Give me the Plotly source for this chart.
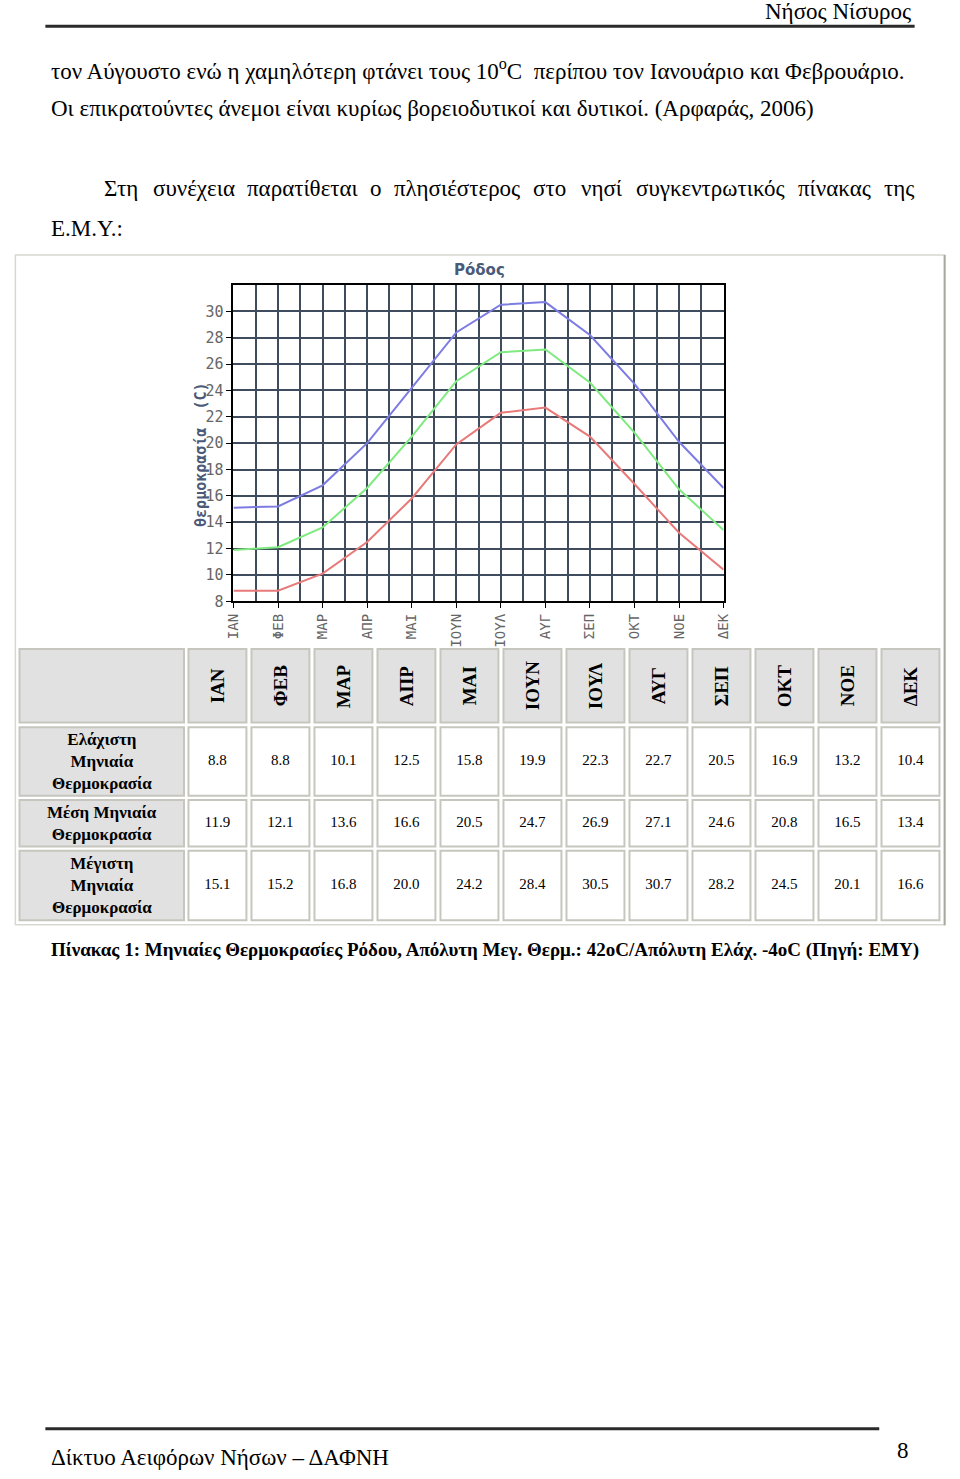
import plotly.graph_objects as go

W, H = 960, 1479

# ---------------- data ----------------
months = ["ΙΑΝ", "ΦΕΒ", "ΜΑΡ", "ΑΠΡ", "ΜΑΙ", "ΙΟΥΝ", "ΙΟΥΛ", "ΑΥΓ", "ΣΕΠ", "ΟΚΤ", "ΝΟΕ", "ΔΕΚ"]
t_min = [8.8, 8.8, 10.1, 12.5, 15.8, 19.9, 22.3, 22.7, 20.5, 16.9, 13.2, 10.4]
t_mean = [11.9, 12.1, 13.6, 16.6, 20.5, 24.7, 26.9, 27.1, 24.6, 20.8, 16.5, 13.4]
t_max = [15.1, 15.2, 16.8, 20.0, 24.2, 28.4, 30.5, 30.7, 28.2, 24.5, 20.1, 16.6]
y_ticks = [8, 10, 12, 14, 16, 18, 20, 22, 24, 26, 28, 30]
row_labels = ["Ελάχιστη<br>Μηνιαία<br>Θερμοκρασία",
              "Μέση Μηνιαία<br>Θερμοκρασία",
              "Μέγιστη<br>Μηνιαία<br>Θερμοκρασία"]
chart_title = "Ρόδος"
y_title = "θερμοκρασία  (C)"

# ---------------- helpers ----------------
def px(x):
    return x / W

def py(y):
    return 1 - y / H

idx = list(range(len(months)))

fig = go.Figure()

# ---------------- chart ----------------
line_specs = [(t_min, "#e87a7a"), (t_mean, "#7fea7f"), (t_max, "#7c7ce2")]
for vals, col in line_specs:
    fig.add_trace(go.Scatter(x=idx, y=vals, mode="lines",
                             line=dict(color=col, width=2),
                             xaxis="x", yaxis="y", showlegend=False,
                             hoverinfo="skip"))

grid_col = "#3e4c5e"
mono = "DejaVu Sans Mono"

# ---------------- table ----------------
col_center0 = 213.0
col_pitch = 64.07
x2_lo, x2_hi = -3.2, 11.5
rows = [(731.7, 800.7), (805.0, 851.7), (856.0, 926.0)]
header_row = (653.0, 727.0)
half_w = 0.46
rh_x0, rh_x1 = -3.142, -0.531
cell_line = dict(color="#c6c6be", width=2)
head_fill = "#e1e1e1"

shapes = []
shapes.append(dict(type="rect", xref="x2", yref="y2", x0=rh_x0, x1=rh_x1,
                   y0=header_row[0], y1=header_row[1], fillcolor=head_fill,
                   line=cell_line, layer="below"))
for i in idx:
    shapes.append(dict(type="rect", xref="x2", yref="y2", x0=i - half_w, x1=i + half_w,
                       y0=header_row[0], y1=header_row[1], fillcolor=head_fill,
                       line=cell_line, layer="below"))
for (r0, r1) in rows:
    shapes.append(dict(type="rect", xref="x2", yref="y2", x0=rh_x0, x1=rh_x1,
                       y0=r0, y1=r1, fillcolor=head_fill, line=cell_line, layer="below"))
    for i in idx:
        shapes.append(dict(type="rect", xref="x2", yref="y2", x0=i - half_w, x1=i + half_w,
                           y0=r0, y1=r1, fillcolor="white", line=cell_line, layer="below"))

for (r0, r1), vals in zip(rows, [t_min, t_mean, t_max]):
    fig.add_trace(go.Scatter(x=idx, y=[(r0 + r1) / 2] * len(vals), mode="text",
                             text=[f"{v:.1f}" for v in vals],
                             textfont=dict(family="Liberation Serif", size=15, color="black"),
                             xaxis="x2", yaxis="y2", showlegend=False, hoverinfo="skip"))

annotations = []
serif = "Liberation Serif"
for i, m in zip(idx, months):
    annotations.append(dict(xref="x2", yref="y2", x=i, y=(header_row[0] + header_row[1]) / 2,
                            text=f"<b>{m}</b>", textangle=-90, showarrow=False,
                            xanchor="center", yanchor="middle",
                            font=dict(family=serif, size=19, color="black")))
for (r0, r1), lab in zip(rows, row_labels):
    annotations.append(dict(xref="x2", yref="y2", x=(rh_x0 + rh_x1) / 2, y=(r0 + r1) / 2,
                            text=f"<b>{lab}</b>", showarrow=False,
                            xanchor="center", yanchor="middle",
                            font=dict(family=serif, size=17, color="black")))

annotations.append(dict(xref="paper", yref="paper", x=px(479), y=py(272),
                        text=f"<b>{chart_title}</b>", showarrow=False,
                        xanchor="center", yanchor="middle",
                        font=dict(family="DejaVu Sans", size=15, color="#4a5a78")))
annotations.append(dict(xref="paper", yref="paper", x=px(196), y=py(457),
                        text=f"<b>{y_title}</b>", textangle=-90, showarrow=False,
                        xanchor="center", yanchor="middle",
                        font=dict(family=mono, size=15, color="#4a5a78")))

def page_text(x, y, text, size=23, anchor="left", bold=False):
    t = f"<b>{text}</b>" if bold else text
    annotations.append(dict(xref="paper", yref="paper", x=px(x), y=py(y), text=t,
                            xanchor=anchor, yanchor="middle", showarrow=False,
                            font=dict(family=serif, size=size, color="black")))

page_text(920, 12, "Νήσος Νίσυρος", anchor="right")
page_text(42, 70, "τον Αύγουστο ενώ η χαμηλότερη φτάνει τους 10<sup>o</sup>C  περίπου τον Ιανουάριο και Φεβρουάριο.")
page_text(42, 109, "Οι επικρατούντες άνεμοι είναι κυρίως βορειοδυτικοί και δυτικοί. (Αρφαράς, 2006)")
words = [("Στη", 96), ("συνέχεια", 145), ("παρατίθεται", 241), ("ο", 366),
         ("πλησιέστερος", 391), ("στο", 532), ("νησί", 581), ("συγκεντρωτικός", 637),
         ("πίνακας", 801), ("της", 889)]
for w, x in words:
    page_text(x, 190, w)
page_text(42, 230, "Ε.Μ.Υ.:")
page_text(42, 956, "Πίνακας 1: Μηνιαίες Θερμοκρασίες Ρόδου, Απόλυτη Μεγ. Θερμ.: 42oC/Απόλυτη Ελάχ. -4oC (Πηγή: ΕΜΥ)",
          size=19, bold=True)
page_text(42, 1466, "Δίκτυο Αειφόρων Νήσων – ΔΑΦΝΗ")
page_text(918, 1459, "8", anchor="right")

shapes.append(dict(type="line", xref="paper", yref="paper", x0=px(38), x1=px(922),
                   y0=py(26.5), y1=py(26.5), line=dict(color="#2a2a2a", width=3)))
shapes.append(dict(type="line", xref="paper", yref="paper", x0=px(38), x1=px(886),
                   y0=py(1437.5), y1=py(1437.5), line=dict(color="#2a2a2a", width=3)))
shapes.append(dict(type="rect", xref="paper", yref="paper", x0=px(7.5), x1=px(952.5),
                   y0=py(256.5), y1=py(930.5), line=dict(color="#d8d8d0", width=1.5),
                   layer="below"))
shapes.append(dict(type="line", xref="paper", yref="paper", x0=px(952.5), x1=px(952.5),
                   y0=py(256.5), y1=py(931), line=dict(color="#a8a8a0", width=2)))

fig.update_layout(
    width=W, height=H,
    margin=dict(l=0, r=0, t=0, b=0),
    paper_bgcolor="white", plot_bgcolor="white",
    showlegend=False,
    xaxis=dict(domain=[px(229.3), px(727.7)], range=[0, 11], anchor="y",
               tickmode="array", tickvals=idx, ticktext=months, tickangle=-90,
               tickfont=dict(family=mono, size=14, color="#666666"),
               showgrid=True, gridcolor=grid_col, gridwidth=1.5,
               minor=dict(tickmode="array", tickvals=[i + 0.5 for i in idx[:-1]],
                          showgrid=True, gridcolor=grid_col, gridwidth=1.5, ticks=""),
               showline=True, linecolor="black", linewidth=2, mirror=True,
               ticks="outside", ticklen=5, tickcolor="black", zeroline=False),
    yaxis=dict(domain=[py(605), py(286.7)], range=[8, 32], anchor="x",
               tickmode="array", tickvals=y_ticks,
               tickfont=dict(family=mono, size=15, color="#666666"),
               showgrid=True, gridcolor=grid_col, gridwidth=1.5,
               showline=True, linecolor="black", linewidth=2, mirror=True,
               ticks="outside", ticklen=5, tickcolor="black", zeroline=False),
    xaxis2=dict(domain=[px(col_center0 + x2_lo * col_pitch),
                        px(col_center0 + x2_hi * col_pitch)],
                range=[x2_lo, x2_hi], anchor="y2", visible=False),
    yaxis2=dict(domain=[py(937), py(648)], range=[937, 648], anchor="x2", visible=False),
    shapes=shapes,
    annotations=annotations,
)

fig.write_html("out.html")
